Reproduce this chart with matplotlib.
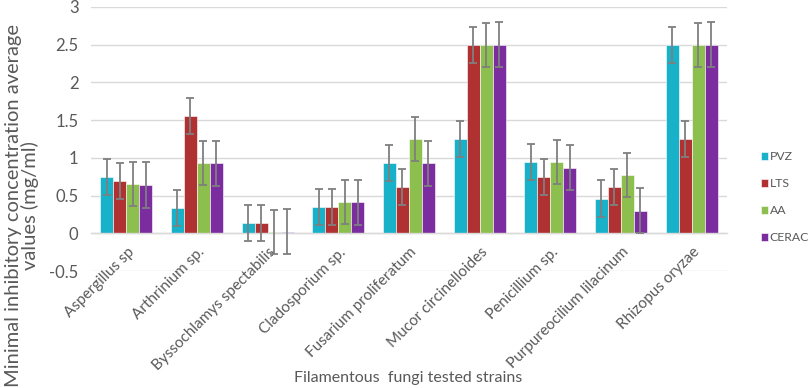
import numpy as np
import matplotlib
matplotlib.use('Agg')
import matplotlib.pyplot as plt
from matplotlib.transforms import ScaledTranslation

plt.rcParams['font.family'] = ['Lato', 'DejaVu Sans']

# ---- data ----
strains = ['Aspergillus sp', 'Arthrinium sp.', 'Byssochlamys spectabilis',
           'Cladosporium sp.', 'Fusarium proliferatum', 'Mucor circinelloides',
           'Penicillium sp.', 'Purpureocilium lilacinum', 'Rhizopus oryzae']
series = ['PVZ', 'LTS', 'AA', 'CERAC']

pvz = [0.75, 0.34, 0.14, 0.35, 0.93, 1.25, 0.95, 0.46, 2.5]
lts = [0.69, 1.56, 0.14, 0.35, 0.61, 2.5, 0.75, 0.61, 1.25]
aa = [0.65, 0.93, 0.02, 0.41, 1.25, 2.5, 0.95, 0.77, 2.5]
cerac = [0.64, 0.93, 0.02, 0.41, 0.93, 2.5, 0.87, 0.30, 2.5]

err_pvz = 0.24
err_lts = 0.24
err_aa = 0.29
err_cerac = 0.30

colors = ['#17b1c9', '#b03131', '#8cbf4e', '#7b2c9e']

fig = plt.figure(figsize=(8.09, 3.88), dpi=100)
ax = fig.add_axes([0.1125, 0.3015, 0.786, 0.6805])

x = np.arange(len(strains))
w = 0.184
vals = [pvz, lts, aa, cerac]
errs = [err_pvz, err_lts, err_aa, err_cerac]
for i, (v, e) in enumerate(zip(vals, errs)):
    ax.bar(x + (i - 1.5) * w, v, w, color=colors[i], edgecolor='white',
           linewidth=0.4, label=series[i], zorder=2,
           yerr=e, error_kw=dict(ecolor='#7f7f7f', elinewidth=1.3,
                                 capsize=2.9, capthick=1.3, zorder=3))

ax.set_xlim(-0.5, len(strains) - 0.5)
ax.set_ylim(-0.5, 3)
ax.set_yticks(np.arange(-0.5, 3.01, 0.5))
ax.set_yticklabels(['-0.5', '0', '0.5', '1', '1.5', '2', '2.5', '3'])
ax.yaxis.grid(True, color='#d9d9d9', linewidth=1, zorder=0)
ax.set_axisbelow(True)
for s in ['top', 'right', 'left']:
    ax.spines[s].set_visible(False)
ax.spines['bottom'].set_position(('data', 0))
ax.spines['bottom'].set_color('#d9d9d9')
ax.spines['bottom'].set_linewidth(1)
ax.tick_params(axis='y', length=0, pad=9, labelsize=12, labelcolor='#595959')
ax.tick_params(axis='x', length=0, pad=12, labelsize=11, labelcolor='#595959')
ax.set_xticks(x)
ax.set_xticklabels(strains, rotation=45, ha='right', va='center',
                   rotation_mode='anchor')
# nudge the rotated labels a little to the right
shift = ScaledTranslation(4 / 72, 0, fig.dpi_scale_trans)
for lab in ax.get_xticklabels():
    lab.set_transform(lab.get_transform() + shift)

fig.text(0.505, 0.008, 'Filamentous  fungi tested strains', fontsize=11.5,
         color='#595959', ha='center', va='bottom')
fig.text(0.027, 0.47, 'Minimal inhibitory concentration average\nvalues (mg/ml)',
         fontsize=14.5, color='#595959', rotation=90, ha='center', va='center',
         multialignment='center', linespacing=0.95)

leg = ax.legend(loc='center left', bbox_to_anchor=(761 / 809, 0.492),
                bbox_transform=fig.transFigure, frameon=False, fontsize=8.8,
                handlelength=0.6, handleheight=0.6, handletextpad=0.12,
                labelspacing=1.3, borderpad=0, borderaxespad=0,
                labelcolor='#595959')

fig.savefig('out.png', dpi=100)
